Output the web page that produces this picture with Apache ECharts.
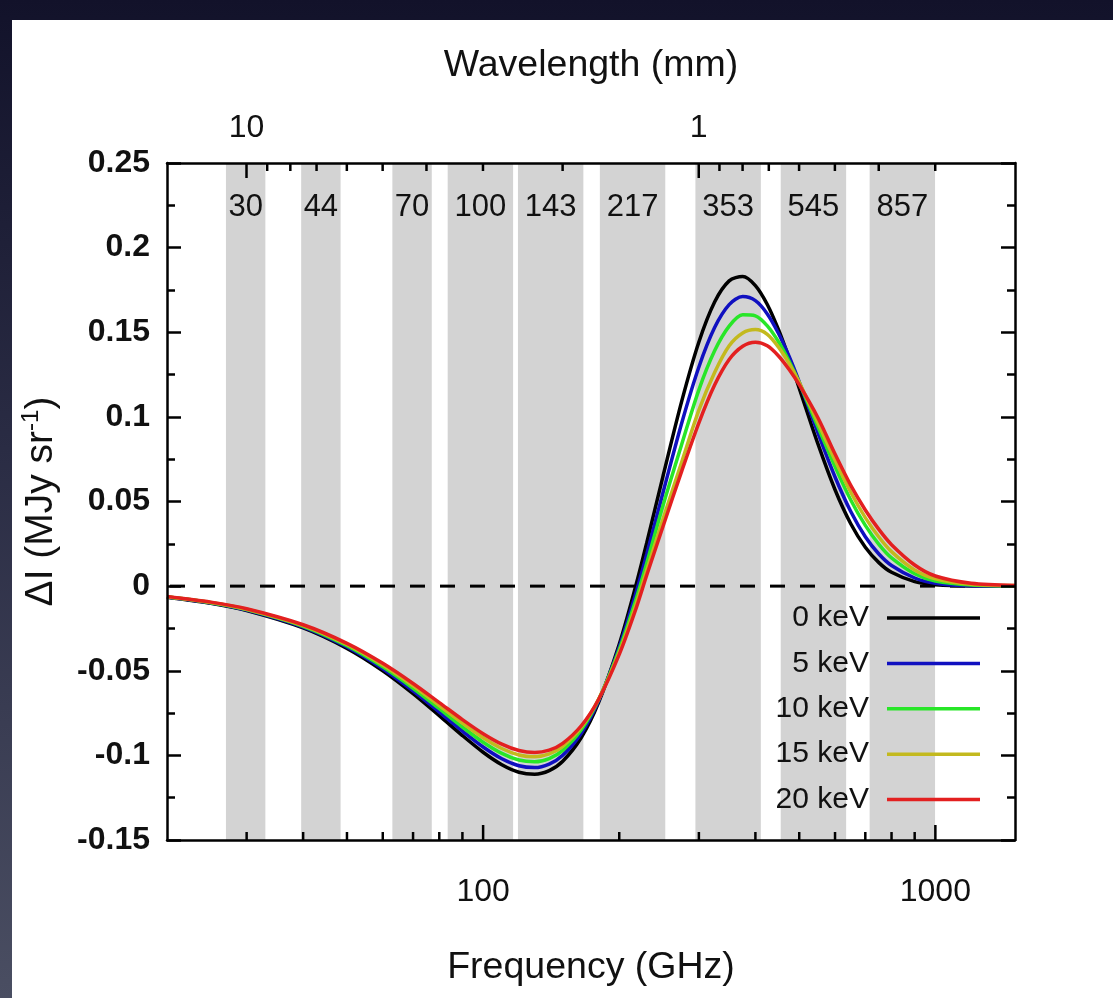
<!DOCTYPE html>
<html>
<head>
<meta charset="utf-8">
<script src="https://cdn.jsdelivr.net/npm/echarts@6/dist/echarts.min.js"></script>
<style>
  html, body { margin: 0; padding: 0; width: 1113px; height: 998px; overflow: hidden;
    background: linear-gradient(180deg, #12122a 0%, #2a2c44 45%, #4a4e62 100%); }
  #chart { position: absolute; left: 12px; top: 20px; width: 1101px; height: 978px; background: #fff; }
</style>
</head>
<body>
<div id="chart"></div>
<script>
// Thermal SZ intensity change vs frequency for several electron temperatures,
// with the Planck LFI/HFI bands shaded behind the curves.

// Frequency sampling (GHz)
const freqGHz = [20, 25, 30, 40, 50, 60, 70, 80, 90, 100, 110, 120, 130, 140, 150, 165, 180,
  200, 217, 230, 250, 275, 300, 325, 350, 375, 400, 425, 450, 475, 500, 550, 600, 650, 700,
  750, 800, 900, 1000, 1200, 1500];

// Delta I (MJy/sr) for each electron temperature
const dI_0keV = [-0.00656, -0.01014, -0.01439, -0.02466, -0.03676, -0.04996, -0.06347, -0.0765,
  -0.08828, -0.09814, -0.10551, -0.10994, -0.11114, -0.109, -0.1035, -0.08931, -0.06888,
  -0.03432, -0.00096, 0.02546, 0.06519, 0.10946, 0.14425, 0.16787, 0.18034, 0.18294, 0.17758,
  0.1664, 0.15148, 0.13455, 0.11702, 0.084, 0.05694, 0.03687, 0.02299, 0.01389, 0.00817,
  0.00264, 0.0008, 0.00006, 0.0];
const dI_5keV = [-0.00645, -0.00996, -0.01413, -0.02418, -0.03598, -0.04881, -0.06187, -0.07441,
  -0.08568, -0.09506, -0.10201, -0.10615, -0.10723, -0.10517, -0.09998, -0.08675, -0.06784,
  -0.03598, -0.00536, 0.01891, 0.05547, 0.09656, 0.1295, 0.15276, 0.1663, 0.1711, 0.1687,
  0.16085, 0.14929, 0.1357, 0.12068, 0.0905, 0.0645, 0.0441, 0.0292, 0.019, 0.0122,
  0.0048, 0.0017, 0.0002, 0.0];
const dI_10keV = [-0.00634, -0.00979, -0.01388, -0.02371, -0.03523, -0.0477, -0.06034, -0.07243,
  -0.08324, -0.0922, -0.09881, -0.10275, -0.10378, -0.10188, -0.09704, -0.08474, -0.06718,
  -0.03754, -0.00909, 0.01356, 0.04779, 0.084, 0.116, 0.139, 0.1536, 0.1603, 0.1597,
  0.1538, 0.1444, 0.1328, 0.1202, 0.0941, 0.0706, 0.0509, 0.0359, 0.0247, 0.0167,
  0.0073, 0.003, 0.0006, 0.0001];
const dI_15keV = [-0.00623, -0.00962, -0.01363, -0.02326, -0.0345, -0.04663, -0.05889, -0.07055,
  -0.08097, -0.08957, -0.09592, -0.09974, -0.10081, -0.09912, -0.09467, -0.08327, -0.06689,
  -0.039, -0.01215, 0.0094, 0.0398, 0.0735, 0.104, 0.1262, 0.142, 0.1496, 0.1516,
  0.1488, 0.1412, 0.1315, 0.1205, 0.0965, 0.0745, 0.0555, 0.0405, 0.029, 0.0204,
  0.0095, 0.0043, 0.0011, 0.0003];
const dI_20keV = [-0.00614, -0.00946, -0.0134, -0.02283, -0.03381, -0.04561, -0.0575, -0.06879,
  -0.07885, -0.08717, -0.09334, -0.09711, -0.0983, -0.09689, -0.09288, -0.08234, -0.06699,
  -0.04035, -0.01455, 0.00644, 0.0354, 0.0681, 0.0965, 0.1188, 0.1339, 0.1417, 0.1441,
  0.142, 0.136, 0.128, 0.119, 0.0995, 0.078, 0.0595, 0.045, 0.0335, 0.0245,
  0.0125, 0.006, 0.0017, 0.0004];

const seriesNames = ['0 keV', '5 keV', '10 keV', '15 keV', '20 keV'];

// Planck channels: nominal centre (GHz) and fractional bandwidth
const bandCenterGHz = [30, 44, 70, 100, 143, 217, 353, 545, 857];
const bandWidthFrac = [0.2, 0.2, 0.2, 0.33, 0.33, 0.33, 0.33, 0.33, 0.33];

// Tick positions on the frequency (bottom) and wavelength (top) scales
const freqTickGHz = [30, 40, 50, 60, 70, 80, 90, 100, 200, 300, 400, 500, 600, 700, 800, 900, 1000];
const waveTickMm = [10, 9, 8, 7, 6, 5, 4, 3, 2, 1, 0.9, 0.8, 0.7, 0.6, 0.5, 0.4, 0.3];

// ---- layout / style ----
const FONT = '"Liberation Sans", Arial, Helvetica, sans-serif';
const INK = '#111';
const FRAME = { color: '#000', width: 2.5 };
const BAND_FILL = '#d3d3d3';
const COLORS = ['#000000', '#1010c0', '#28e628', '#c3b91e', '#e32020'];
const FREQ_MIN = 20, FREQ_MAX = 1500;
const DI_MIN = -0.15, DI_MAX = 0.25, DI_STEP = 0.05;
const C_MM_GHZ = 299.792458; // wavelength (mm) * frequency (GHz)
const DASH = 15, DASH_GAP = 15;

function isDecade(v) {
  const l = Math.log10(v);
  return Math.abs(l - Math.round(l)) < 1e-6;
}
function decadeLabel(v) {
  return isDecade(v) ? String(Math.round(v)) : '';
}

const curves = [dI_0keV, dI_5keV, dI_10keV, dI_15keV, dI_20keV].map((vals, k) => ({
  name: seriesNames[k],
  type: 'line',
  xAxisIndex: 0,
  yAxisIndex: 0,
  data: freqGHz.map((f, i) => [f, vals[i]]),
  smooth: 0.3,
  symbol: 'none',
  showSymbol: false,
  lineStyle: { color: COLORS[k], width: 3.5 },
  itemStyle: { color: COLORS[k] },
  z: 3,
  silent: true
}));

const bandData = bandCenterGHz.map((c, i) => [c * (1 - bandWidthFrac[i] / 2), c * (1 + bandWidthFrac[i] / 2), c]);

const option = {
  animation: false,
  backgroundColor: '#fff',
  grid: { left: 155, top: 143, right: 98, bottom: 158, outerBoundsMode: 'none', containLabel: false },
  legend: {
    data: seriesNames,
    orient: 'vertical',
    right: 133,
    top: 583,
    padding: 0,
    align: 'right',
    icon: 'rect',
    itemWidth: 93,
    itemHeight: 3.5,
    itemGap: 15.4,
    selectedMode: false,
    formatter: name => '{t|' + name + '}',
    textStyle: {
      color: INK,
      fontFamily: FONT,
      fontSize: 30,
      rich: { t: { width: 96, align: 'right', fontSize: 30, lineHeight: 30, fontFamily: FONT, color: INK, padding: [0, 13, 0, 0] } }
    }
  },
  xAxis: [
    {
      type: 'log', logBase: 10, min: FREQ_MIN, max: FREQ_MAX, position: 'bottom', z: 10,
      axisLine: { show: true, onZero: false, lineStyle: FRAME },
      axisTick: { show: false },
      splitLine: { show: false },
      axisLabel: { margin: 36, fontSize: 32, fontFamily: FONT, color: INK, formatter: decadeLabel,
        showMinLabel: false, showMaxLabel: false },
      name: 'Frequency (GHz)', nameLocation: 'middle', nameGap: 109, nameMoveOverlap: false,
      nameTextStyle: { fontSize: 37.5, fontFamily: FONT, color: INK }
    },
    {
      type: 'log', logBase: 10, min: C_MM_GHZ / FREQ_MAX, max: C_MM_GHZ / FREQ_MIN, inverse: true,
      position: 'top', z: 10,
      axisLine: { show: true, onZero: false, lineStyle: FRAME },
      axisTick: { show: false },
      splitLine: { show: false },
      axisLabel: { margin: 19, fontSize: 32, fontFamily: FONT, color: INK, formatter: decadeLabel,
        showMinLabel: false, showMaxLabel: false },
      name: 'Wavelength (mm)', nameLocation: 'middle', nameGap: 78, nameMoveOverlap: false,
      nameTextStyle: { fontSize: 37.5, fontFamily: FONT, color: INK }
    }
  ],
  yAxis: [
    {
      type: 'value', min: DI_MIN, max: DI_MAX, interval: DI_STEP, position: 'left', z: 10,
      axisLine: { show: true, onZero: false, lineStyle: FRAME },
      axisTick: { show: true, inside: true, length: 14, lineStyle: FRAME },
      minorTick: { show: true, splitNumber: 2, length: 8, lineStyle: FRAME },
      splitLine: { show: false },
      axisLabel: { margin: 17, fontSize: 32, fontWeight: 'bold', fontFamily: FONT, color: INK },
      name: '{n|ΔI (MJy sr}{s|-1}{n|)}', nameLocation: 'middle', nameGap: 104, nameRotate: 90,
      nameMoveOverlap: false,
      nameTextStyle: {
        fontSize: 39, fontFamily: FONT, color: INK,
        rich: {
          n: { fontSize: 39, fontFamily: FONT, color: INK, lineHeight: 44 },
          s: { fontSize: 24, fontFamily: FONT, color: INK, lineHeight: 44, verticalAlign: 'top', padding: [0, 0, 15, 0] }
        }
      }
    },
    {
      type: 'value', min: DI_MIN, max: DI_MAX, interval: DI_STEP, position: 'right', z: 10,
      axisLine: { show: true, onZero: false, lineStyle: FRAME },
      axisTick: { show: true, inside: true, length: 14, lineStyle: FRAME },
      minorTick: { show: true, splitNumber: 2, length: 8, lineStyle: FRAME },
      splitLine: { show: false },
      axisLabel: { show: false }
    }
  ],
  series: [
    {
      // shaded Planck bands
      type: 'custom', name: 'bands', coordinateSystem: 'cartesian2d', xAxisIndex: 0, yAxisIndex: 0,
      z: 1, silent: true,
      data: bandData,
      renderItem: (params, api) => {
        const a = api.coord([api.value(0), DI_MAX]);
        const b = api.coord([api.value(1), DI_MIN]);
        return { type: 'rect', shape: { x: a[0], y: a[1], width: b[0] - a[0], height: b[1] - a[1] },
          style: { fill: BAND_FILL } };
      }
    },
    {
      // dashed zero level across the panel, built from short segments
      type: 'custom', name: 'zero', coordinateSystem: 'cartesian2d', xAxisIndex: 0, yAxisIndex: 0,
      z: 2, silent: true,
      data: [[FREQ_MIN, 0]],
      renderItem: (params, api) => {
        const a = api.coord([FREQ_MIN, 0]);
        const b = api.coord([FREQ_MAX, 0]);
        const children = [];
        for (let x = a[0] + 3; x < b[0]; x += DASH + DASH_GAP) {
          children.push({ type: 'line', shape: { x1: x, y1: a[1], x2: Math.min(x + DASH, b[0]), y2: a[1] },
            style: { stroke: '#000', lineWidth: 3 } });
        }
        return { type: 'group', children };
      }
    },
    ...curves,
    {
      // band names along the top of the panel
      type: 'custom', name: 'bandLabels', coordinateSystem: 'cartesian2d', xAxisIndex: 0, yAxisIndex: 0,
      z: 4, silent: true,
      data: bandData,
      renderItem: (params, api) => {
        const a = api.coord([api.value(0), DI_MAX]);
        const b = api.coord([api.value(1), DI_MAX]);
        return { type: 'text', x: (a[0] + b[0]) / 2, y: a[1] + 44,
          style: { text: String(bandCenterGHz[params.dataIndex]), fill: INK, fontSize: 31, fontFamily: FONT,
            align: 'center', verticalAlign: 'middle', textAlign: 'center', textVerticalAlign: 'middle' } };
      }
    },
    {
      // frequency ticks (bottom edge)
      type: 'custom', name: 'freqTicks', coordinateSystem: 'cartesian2d', xAxisIndex: 0, yAxisIndex: 0,
      z: 5, silent: true,
      data: freqTickGHz.map(f => [f, DI_MIN]),
      renderItem: (params, api) => {
        const f = api.value(0);
        const p = api.coord([f, DI_MIN]);
        const len = isDecade(f) ? 15 : 8;
        return { type: 'line', shape: { x1: p[0], y1: p[1], x2: p[0], y2: p[1] - len },
          style: { stroke: FRAME.color, lineWidth: FRAME.width } };
      }
    },
    {
      // wavelength ticks (top edge)
      type: 'custom', name: 'waveTicks', coordinateSystem: 'cartesian2d', xAxisIndex: 1, yAxisIndex: 0,
      z: 5, silent: true,
      data: waveTickMm.map(w => [w, DI_MAX]),
      renderItem: (params, api) => {
        const w = api.value(0);
        const p = api.coord([w, DI_MAX]);
        const len = isDecade(w) ? 15 : 8;
        return { type: 'line', shape: { x1: p[0], y1: p[1], x2: p[0], y2: p[1] + len },
          style: { stroke: FRAME.color, lineWidth: FRAME.width } };
      }
    }
  ]
};

const chart = echarts.init(document.getElementById('chart'), null, { renderer: 'canvas' });
chart.setOption(option);
</script>
</body>
</html>
